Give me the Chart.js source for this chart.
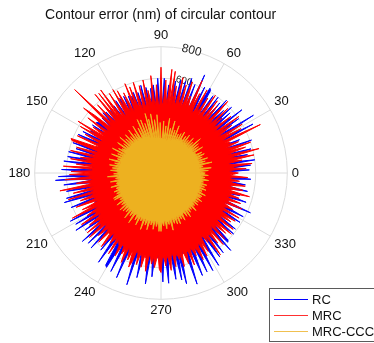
<!DOCTYPE html>
<html>
<head>
<meta charset="utf-8">
<script src="https://cdn.jsdelivr.net/npm/chart.js@4.4.0/dist/chart.umd.min.js"></script>
<style>
  html, body { margin: 0; padding: 0; background: #fff; }
</style>
</head>
<body>
<canvas id="myChart" width="374" height="343"></canvas>
<script>
// angle categories in degrees (1 deg steps), data arrays follow this order
const angles = Array.from({ length: 360 }, (_, k) => k)
const angleTicks = [0, 30, 60, 90, 120, 150, 180, 210, 240, 270, 300, 330]
const radialTicks = [200, 400, 600, 800]

const rc = [
  440, 430, 560, 420, 440, 570, 430, 420, 600, 440, 430, 420, 560, 440, 430, 590, 420, 440, 430, 420, 610, 430, 440, 540, 420, 430, 440, 420, 660, 440,
  460, 420, 690, 440, 430, 600, 420, 440, 650, 430, 440, 580, 430, 610, 420, 560, 440, 430, 620, 420, 580, 440, 430, 600, 420, 440, 590, 420, 440, 610,
  620, 430, 440, 610, 430, 420, 680, 440, 420, 600, 430, 440, 630, 420, 430, 600, 440, 420, 600, 430, 440, 590, 420, 430, 430, 560, 420, 440, 600, 420,
  420, 430, 600, 420, 430, 560, 420, 540, 410, 420, 550, 420, 430, 570, 410, 420, 530, 410, 420, 540, 410, 520, 420, 530, 410, 420, 540, 410, 420, 540,
  410, 420, 540, 400, 410, 520, 400, 420, 410, 510, 400, 410, 520, 400, 530, 410, 420, 510, 400, 420, 410, 510, 520, 400, 410, 530, 420, 410, 420, 520,
  410, 420, 560, 410, 430, 580, 420, 430, 420, 430, 420, 590, 430, 420, 560, 430, 420, 600, 440, 430, 600, 420, 440, 620, 430, 440, 430, 450, 630, 440,
  440, 430, 650, 440, 670, 450, 440, 620, 440, 450, 450, 610, 430, 440, 450, 620, 440, 640, 430, 450, 440, 610, 440, 450, 460, 440, 450, 440, 650, 460,
  450, 630, 460, 470, 650, 470, 460, 600, 480, 470, 490, 660, 470, 480, 640, 480, 490, 650, 480, 500, 490, 470, 620, 490, 510, 690, 500, 490, 520, 680,
  690, 510, 520, 700, 500, 510, 500, 720, 520, 510, 530, 500, 490, 740, 510, 520, 510, 680, 520, 530, 520, 510, 710, 510, 520, 660, 510, 520, 540, 530,
  530, 690, 520, 530, 700, 530, 520, 540, 680, 520, 530, 690, 520, 720, 520, 530, 520, 510, 740, 530, 540, 520, 700, 530, 520, 690, 530, 520, 700, 520,
  520, 510, 690, 490, 500, 650, 490, 480, 640, 490, 480, 470, 660, 480, 610, 600, 470, 480, 460, 470, 600, 460, 470, 590, 450, 460, 460, 450, 590, 460,
  450, 460, 590, 440, 450, 440, 620, 450, 460, 450, 440, 570, 450, 440, 520, 450, 440, 450, 560, 440, 450, 440, 540, 440, 430, 450, 570, 430, 440, 430
]
const mrc = [
  490, 440, 430, 540, 450, 470, 580, 440, 430, 520, 460, 600, 450, 480, 640, 440, 470, 560, 450, 600, 470, 440, 530, 460, 480, 450, 700, 460, 440, 580,
  450, 600, 430, 460, 540, 440, 610, 450, 430, 570, 460, 440, 520, 450, 590, 430, 470, 620, 440, 460, 550, 430, 580, 450, 440, 600, 470, 430, 560, 450,
  470, 600, 440, 430, 560, 460, 640, 440, 470, 520, 450, 610, 480, 430, 580, 450, 470, 620, 440, 460, 560, 430, 650, 450, 660, 440, 470, 590, 450, 430,
  670, 440, 430, 560, 460, 420, 620, 440, 460, 530, 420, 600, 440, 430, 570, 450, 410, 600, 440, 460, 580, 430, 610, 420, 450, 560, 430, 470, 590, 440,
  610, 420, 440, 600, 430, 460, 650, 440, 640, 420, 650, 450, 430, 590, 440, 470, 760, 430, 450, 560, 640, 420, 440, 580, 430, 450, 520, 420, 620, 440,
  590, 430, 420, 540, 440, 430, 580, 420, 450, 610, 600, 430, 420, 560, 440, 430, 590, 420, 460, 520, 440, 580, 430, 450, 540, 420, 620, 440, 430, 570,
  450, 580, 440, 460, 610, 430, 450, 540, 440, 470, 650, 430, 460, 570, 440, 450, 610, 430, 470, 540, 450, 440, 580, 460, 430, 550, 470, 630, 450, 480,
  540, 470, 490, 600, 460, 480, 560, 500, 470, 600, 490, 510, 610, 470, 490, 560, 500, 480, 590, 490, 510, 600, 480, 500, 550, 520, 490, 610, 500, 520,
  530, 600, 510, 520, 570, 530, 620, 510, 540, 590, 520, 630, 590, 510, 530, 600, 520, 540, 610, 530, 550, 630, 520, 540, 580, 530, 600, 550, 520, 610,
  630, 530, 540, 590, 520, 550, 620, 530, 510, 600, 540, 520, 560, 530, 610, 510, 540, 600, 530, 520, 620, 510, 530, 570, 520, 540, 610, 520, 500, 600,
  500, 580, 490, 470, 530, 480, 640, 490, 500, 570, 470, 600, 480, 460, 580, 490, 470, 560, 480, 590, 460, 470, 580, 480, 460, 540, 480, 560, 460, 450,
  570, 450, 460, 510, 460, 440, 560, 450, 470, 540, 440, 460, 520, 450, 470, 580, 440, 460, 530, 440, 450, 540, 460, 430, 500, 450, 440, 550, 430, 460
]
const mrcCcc = [
  280, 250, 240, 300, 250, 260, 320, 245, 250, 270, 260, 240, 330, 250, 240, 290, 255, 245, 310, 240, 250, 280, 245, 260, 300, 240, 250, 290, 245, 250,
  250, 240, 310, 245, 240, 290, 235, 250, 300, 240, 245, 330, 235, 240, 280, 240, 230, 300, 240, 235, 270, 245, 230, 300, 240, 235, 280, 230, 250, 240,
  300, 235, 240, 280, 225, 230, 270, 230, 225, 320, 225, 230, 285, 220, 215, 340, 225, 230, 290, 215, 210, 350, 220, 215, 300, 215, 220, 330, 215, 220,
  215, 320, 225, 220, 370, 230, 225, 340, 225, 230, 380, 235, 230, 350, 240, 390, 240, 235, 330, 250, 245, 360, 250, 255, 370, 250, 260, 320, 250, 255,
  250, 345, 260, 255, 300, 250, 260, 340, 265, 255, 300, 255, 260, 330, 260, 265, 310, 250, 260, 345, 260, 255, 300, 255, 265, 335, 260, 270, 290, 265,
  310, 260, 250, 345, 260, 265, 300, 255, 260, 335, 260, 270, 290, 265, 270, 340, 260, 265, 300, 270, 265, 330, 270, 275, 310, 270, 280, 320, 270, 275,
  270, 300, 265, 270, 340, 270, 275, 290, 265, 270, 325, 270, 275, 290, 285, 270, 330, 270, 280, 300, 285, 280, 320, 280, 290, 310, 285, 290, 340, 285,
  340, 280, 290, 310, 295, 285, 345, 285, 295, 320, 295, 290, 350, 300, 295, 340, 295, 300, 330, 305, 300, 365, 300, 305, 335, 310, 300, 375, 310, 305,
  300, 340, 315, 310, 365, 300, 310, 330, 315, 305, 380, 300, 310, 345, 315, 310, 370, 310, 305, 335, 315, 310, 360, 300, 310, 340, 315, 305, 370, 310,
  370, 310, 320, 335, 300, 310, 355, 315, 305, 330, 300, 310, 370, 295, 300, 330, 305, 295, 340, 290, 300, 345, 290, 295, 320, 290, 300, 335, 285, 290,
  290, 320, 280, 285, 335, 290, 280, 310, 285, 280, 300, 275, 285, 325, 280, 285, 295, 275, 270, 310, 275, 280, 300, 270, 275, 315, 270, 275, 295, 270,
  300, 260, 265, 315, 270, 265, 285, 265, 260, 305, 255, 265, 290, 260, 265, 300, 255, 260, 275, 265, 260, 305, 255, 265, 280, 260, 255, 300, 265, 275
]

// radar goes clockwise from startAngle, so walk the angles backwards from 76 deg
const firstAngle = 76
const order = angles.map((_, i) => ((firstAngle - i) % 360 + 360) % 360)
const pick = arr => order.map(k => arr[k])

const fontFamily = '"Liberation Sans", Arial, Helvetica, sans-serif'
Chart.defaults.font.family = fontFamily
Chart.defaults.color = '#222'

const legendColors = ['#0000ff', '#ff3030', '#f0c050']

const legendBox = {
  id: 'legendBox',
  afterDraw(chart) {
    const ctx = chart.ctx
    const x = 269.5, y = 288.5, w = 110, h = 53
    ctx.save()
    ctx.fillStyle = '#fff'
    ctx.fillRect(x, y, w, h)
    ctx.strokeStyle = '#5a5a5a'
    ctx.lineWidth = 1
    ctx.strokeRect(x, y, w, h)
    ctx.font = '13px ' + fontFamily
    ctx.textBaseline = 'middle'
    ctx.textAlign = 'left'
    chart.data.datasets.forEach((ds, i) => {
      const ly = y + 11 + i * 16
      ctx.strokeStyle = legendColors[i]
      ctx.lineWidth = 1.2
      ctx.beginPath()
      ctx.moveTo(274, ly)
      ctx.lineTo(308, ly)
      ctx.stroke()
      ctx.fillStyle = '#111'
      ctx.fillText(ds.label, 312, ly + 0.5)
    })
    ctx.restore()
  }
}

const ctx = document.getElementById('myChart')
const chart = new Chart(ctx, {
  type: 'radar',
  data: {
    labels: pick(angles),
    datasets: [{
      label: 'RC',
      data: pick(rc),
      borderColor: '#0000ff',
      backgroundColor: '#0000ff',
      order: 3
    }, {
      label: 'MRC',
      data: pick(mrc),
      borderColor: '#ff0000',
      backgroundColor: '#ff0000',
      order: 2
    }, {
      label: 'MRC-CCC',
      data: pick(mrcCcc),
      borderColor: '#edb120',
      backgroundColor: '#edb120',
      order: 1
    }]
  },
  options: {
    responsive: false,
    animation: false,
    devicePixelRatio: 1,
    layout: { padding: { left: 1.5, right: 66, top: 0, bottom: 19.5 } },
    elements: {
      line: { borderWidth: 1, fill: true, tension: 0 },
      point: { radius: 0, hoverRadius: 0 }
    },
    plugins: {
      legend: { display: false },
      tooltip: { enabled: false },
      title: {
        display: true,
        text: '   Contour error (nm) of circular contour',
        color: '#111',
        font: { size: 14, weight: 'normal', lineHeight: 1 },
        padding: { top: 8, bottom: 0.5 }
      }
    },
    scales: {
      r: {
        min: 0,
        max: 800,
        startAngle: 90 - firstAngle,
        afterBuildTicks: scale => { scale.ticks = radialTicks.map(v => ({ value: v })) },
        ticks: {
          color: '#222',
          showLabelBackdrop: true,
          backdropColor: '#fff',
          backdropPadding: 0,
          // small size without a tick keeps the scale's own padding tight
          font: c => ({ size: c.tick ? (c.tick.value === 800 ? 12 : 10) : 1 })
        },
        grid: { circular: true, color: '#dcdcdc', lineWidth: 1 },
        angleLines: {
          color: '#dcdcdc',
          lineWidth: c => (c.label === '' ? 0 : 1)
        },
        pointLabels: {
          padding: 4,
          color: '#111',
          font: { size: 13, lineHeight: 1 },
          callback: label => (angleTicks.includes(label) ? String(label) : '')
        }
      }
    }
  },
  plugins: [legendBox]
})
</script>
</body>
</html>
